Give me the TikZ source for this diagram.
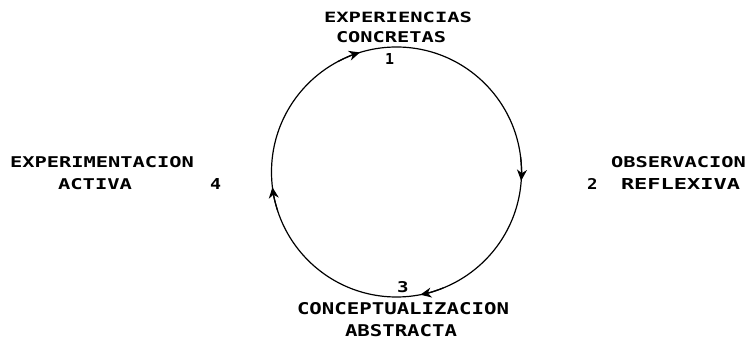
\documentclass[tikz,border=0pt]{standalone}
\usepackage{fontspec}
\usepackage{graphicx}
\newfontfamily\plotfont{DejaVu Sans Mono}[BoldFont={DejaVu Sans Mono Bold}]
\usetikzlibrary{arrows.meta,calc}
\newcommand{\plbl}[3]{\resizebox{#1pt}{#2pt}{\plotfont\bfseries #3}}
\tikzset{
  lbl/.style={anchor=south west, inner sep=0pt, outer sep=0pt},
  dig/.style={anchor=south west, inner sep=0pt, outer sep=0pt},
  cycleline/.style={line width=1.2pt, black},
  cyclearrow/.style={line width=1.2pt, black, -{Stealth[length=11pt,width=10pt,inset=3.5pt]}}
}
\begin{document}
\begin{tikzpicture}[x=1pt,y=1pt]
\useasboundingbox (0,0) rectangle (752,342);
\coordinate (c) at (396.5,170);
\draw[cycleline] (c) circle[radius=125pt];
% arrowheads (clockwise)
\draw[cyclearrow] ($(c)+(118:125pt)$) arc[start angle=118,end angle=107,radius=125pt];
\draw[cyclearrow] ($(c)+(7:125pt)$) arc[start angle=7,end angle=-4,radius=125pt];
\draw[cyclearrow] ($(c)+(-68:125pt)$) arc[start angle=-68,end angle=-79,radius=125pt];
\draw[cyclearrow] ($(c)+(198:125pt)$) arc[start angle=198,end angle=187,radius=125pt];
% labels
\node[lbl] (ec1) at (324,319) {\plbl{148}{10.5}{EXPERIENCIAS}};
\node[lbl] (ec2) at (336,299) {\plbl{110}{11}{CONCRETAS}};
\node[dig] (n1) at (385,277) {\plbl{9}{11}{1}};
\node[lbl] (ea1) at (10,174) {\plbl{184}{11}{EXPERIMENTACION}};
\node[lbl] (ea2) at (58,152) {\plbl{74}{11}{ACTIVA}};
\node[dig] (n4) at (210,152) {\plbl{11}{11}{4}};
\node[lbl] (or1) at (611,174) {\plbl{135}{11}{OBSERVACION}};
\node[dig] (n2) at (587,152) {\plbl{10.5}{11}{2}};
\node[lbl] (or2) at (621,152) {\plbl{119}{11}{REFLEXIVA}};
\node[dig] (n3) at (397,49) {\plbl{11.5}{11}{3}};
\node[lbl] (ca1) at (297,27) {\plbl{212}{12}{CONCEPTUALIZACION}};
\node[lbl] (ca2) at (345,5) {\plbl{112}{12}{ABSTRACTA}};
\end{tikzpicture}
\end{document}
